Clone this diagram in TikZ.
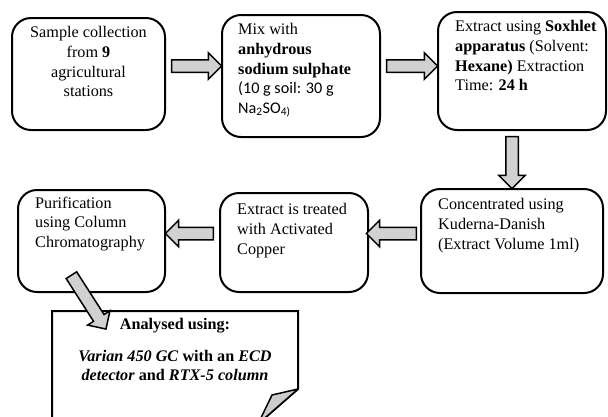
\documentclass[tikz,border=0pt]{standalone}
\usepackage{fontspec}
\setmainfont{Liberation Serif}
\setsansfont{Carlito}
\usetikzlibrary{shapes.arrows,calc}

\begin{document}
\begin{tikzpicture}
[
x=1pt, y=-1pt,
box/.style={rectangle, draw=black, fill=white, line width=2pt, rounded corners=19pt},
txt/.style={inner sep=0pt, align=left, font=\fontsize{16.2}{19.6}\selectfont},
fat/.style={single arrow, draw=black, fill=black!18, line width=1.5pt,
      inner xsep=0pt, inner ysep=5.5pt, minimum width=1pt,
      single arrow head extend=7pt, sloped, allow upside down},
note/.style={draw=black, fill=white, line width=2pt},
fold/.style={draw=black, fill=black!20, line width=1.5pt, line join=round},
]
\useasboundingbox (0,0) rectangle (608,416);
\clip (0,0) rectangle (608,416);

\node at (88.5,74) [box, minimum width=153pt, minimum height=112pt] (b1) {};
\node at (301,76) [box, minimum width=158pt, minimum height=122pt] (b2) {};
\node at (522,71) [box, minimum width=168pt, minimum height=118pt] (b3) {};
\node at (512,241) [box, minimum width=182pt, minimum height=104pt] (b4) {};
\node at (294,242.5) [box, minimum width=148pt, minimum height=99pt] (b5) {};
\node at (91.5,241) [box, minimum width=147pt, minimum height=102pt] (b6) {};

\coordinate (n7) at (52,311);
\coordinate (k7) at (298,389);
\coordinate (f7) at (272,395);
\coordinate (e7) at (258,424);
\draw[note] (52,440) -- (n7) -- (n7 -| k7) -- (k7) -- (e7) -- (52,424 -| e7) -- (52,424);
\draw[fold] (k7) -- (f7) -- (e7) -- cycle;

\node at (88.5,26.5) [txt, anchor=north, align=center] (t1) {Sample collection\\ from \textbf{9}\\ agricultural\\ stations};
\node at (238,23.5) [txt, anchor=north west] (t2) {Mix with\\ \textbf{anhydrous}\\ \textbf{sodium sulphate}\\ {\sffamily (10 g soil: 30 g}\\ {\sffamily Na\textsubscript{2}SO\textsubscript{4)}}};
\node at (455,20.5) [txt, anchor=north west] (t3) {Extract using \textbf{Soxhlet}\\ \textbf{apparatus} (Solvent:\\ \textbf{Hexane)} Extraction\\ Time: \textbf{24 h}};
\node at (438,198.5) [txt, anchor=north west] (t4) {Concentrated using\\ Kuderna-Danish\\ (Extract Volume 1ml)};
\node at (237,203.5) [txt, anchor=north west] (t5) {Extract is treated\\ with Activated\\ Copper};
\node at (35,196.5) [txt, anchor=north west] (t6) {Purification\\ using Column\\ Chromatography};
\node at (175,318.5) [txt, anchor=north, align=center] (t7) {\textbf{Analysed using:}\\[11.5pt] \textbf{\textit{Varian 450 GC} with an \textit{ECD}}\\ \textbf{\textit{detector} and \textit{RTX-5 column}}};

\coordinate (r1) at (0,66);
\coordinate (r2) at (0,233.5);
\coordinate (r3) at (512,0);
\coordinate (d1) at ($(b6.south)+(-21.5,-20)$);
\coordinate (d2) at ($(n7)+(52,15)$);

\path (b1.east |- r1) -- (b2.west |- r1) node[fat, midway, minimum height=50pt] (a1) {};
\path (b2.east |- r1) -- (b3.west |- r1) node[fat, midway, minimum height=51pt] (a2) {};
\path (b3.south -| r3) -- (b4.north) node[fat, midway, minimum height=52pt] (a3) {};
\path (b4.west |- r2) -- (b5.east |- r2) node[fat, midway, minimum height=50pt] (a4) {};
\path (b5.west |- r2) -- (b6.east |- r2) node[fat, midway, minimum height=48pt] (a5) {};
\path (d1) -- (d2) node[fat, midway, minimum height=64pt] (a6) {};

\end{tikzpicture}
\end{document}
